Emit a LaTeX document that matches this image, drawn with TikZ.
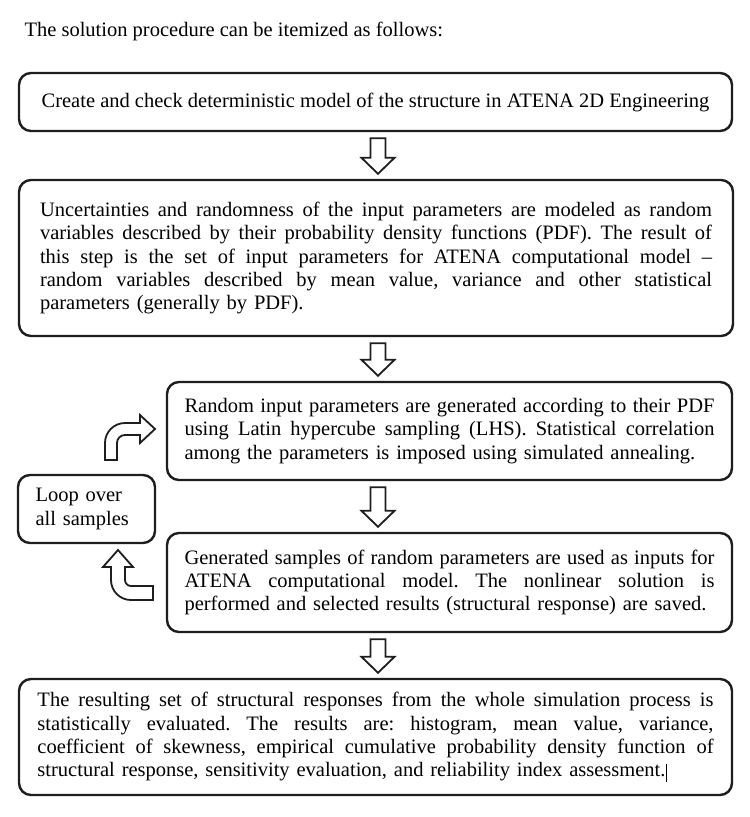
\documentclass[tikz,border=0pt]{standalone}
\usepackage{fontspec}
\setmainfont{Liberation Serif}
\usetikzlibrary{calc}
\frenchspacing
\newcommand\mainsz{\fontsize{20.5pt}{23.4pt}\selectfont}
\newlength\jw
\newcommand\jline[1]{\hbox to \jw{\spaceskip=0pt\xspaceskip=0pt\relax #1}\par}
\definecolor{ink}{HTML}{1E1E1E}
\tikzset{
  box/.style={draw=ink, line width=2.4pt, rounded corners=12pt, inner ysep=0pt,
    align=left, font=\mainsz, text=black},
  blk/.style={draw=ink, line width=1.8pt, fill=white, line join=miter},
}
\newcommand\blockdown[2]{%
  \draw[blk] let \p1=($(axis |- #1.south)+(0,6)$), \p2=($(axis |- #2.north)+(0,-5)$) in
    (\x1-7.5pt,\y1) -- (\x1+7.5pt,\y1) -- (\x1+7.5pt,\y2+16pt) -- (\x1+16.5pt,\y2+16pt)
    -- (\x1,\y2) -- (\x1-16.5pt,\y2+16pt) -- (\x1-7.5pt,\y2+16pt) -- cycle;}
\begin{document}
\begin{tikzpicture}[x=1pt,y=-1pt]
\useasboundingbox[fill=white] (0,0) rectangle (750,817);
\coordinate (axis) at (378,0);

\node[anchor=base west, font=\mainsz] (title) at (21,36) {The solution procedure can be itemized as follows:};

\node[box, minimum width=713pt, minimum height=58pt] (b1) at (375.5,102)
  {Create and check deterministic model of the structure in ATENA 2D Engineering};

\node[box, text width=672pt, inner xsep=21pt, minimum height=156pt] (b2) at (376,258) {%
\setlength\jw{672pt}%
\jline{Uncertainties and randomness of the input parameters are modeled as random}
\jline{variables described by their probability density functions (PDF). The result of}
\jline{this step is the set of input parameters for ATENA computational model --}
\jline{random variables described by mean value, variance and other statistical}
parameters (generally by PDF).};

\node[box, text width=530pt, inner xsep=17.5pt, minimum height=98pt] (b3) at (449.5,431) {%
\setlength\jw{530pt}%
\jline{Random input parameters are generated according to their PDF}
\jline{using Latin hypercube sampling (LHS). Statistical correlation}
among the parameters is imposed using simulated annealing.};

\node[box, text width=530pt, inner xsep=17.5pt, minimum height=99pt] (b4) at (449.5,582.5) {%
\setlength\jw{530pt}%
\jline{Generated samples of random parameters are used as inputs for}
\jline{ATENA computational model. The nonlinear solution is}
performed and selected results (structural response) are saved.};

\node[box, text width=676pt, inner xsep=18.5pt, minimum height=116pt] (b5) at (375.5,737) {%
\setlength\jw{676pt}%
\jline{The resulting set of structural responses from the whole simulation process is}
\jline{statistically evaluated. The results are: histogram, mean value, variance,}
\jline{coefficient of skewness, empirical cumulative probability density function of}
structural response, sensitivity evaluation, and reliability index assessment.\hspace{1pt}\rule[-5pt]{0.9pt}{18pt}};

\node[box, text width=102pt, inner xsep=17.5pt, minimum height=68pt] (loop) at (86.5,509)
  {Loop over\\all samples};

\blockdown{b1}{b2}
\blockdown{b2}{b3}
\blockdown{b3}{b4}
\blockdown{b4}{b5}

% loop -> b3
\draw[blk] (105,460) -- (105,443) .. controls (105,431.95) and (113.95,423) .. (125,423)
  -- (140,423) -- (140,415) -- (155,429) -- (140,443) -- (140,435) -- (125,435)
  .. controls (120.58,435) and (117,438.58) .. (117,443) -- (117,460) -- cycle;
% b4 -> loop
\draw[blk] (153,586) -- (131,586) .. controls (127.69,586) and (125,583.31) .. (125,580)
  -- (125,567) -- (133,567) -- (118,550) -- (103,567) -- (111,567) -- (111,580)
  .. controls (111,591.05) and (119.95,600) .. (131,600) -- (153,600) -- cycle;
\end{tikzpicture}
\end{document}
